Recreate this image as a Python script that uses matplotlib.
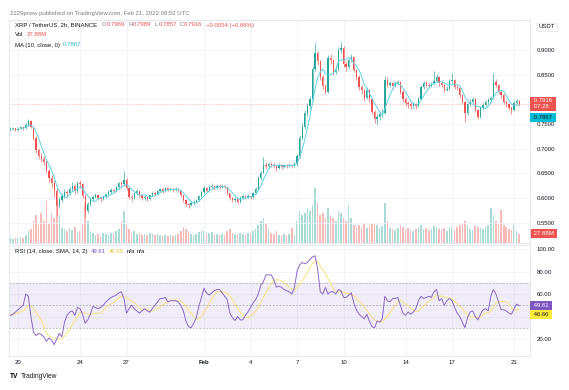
import numpy as np
import pandas as pd
import matplotlib
matplotlib.use("Agg")
import matplotlib.pyplot as plt
import matplotlib.dates as mdates
from matplotlib.transforms import blended_transform_factory

# 4h candles, XRP / TetherUS
first_open = 0.7385
closes = [
    0.740, 0.742, 0.739,
    0.741, 0.744, 0.743, 0.749, 0.757, 0.745,
    0.722, 0.697, 0.686, 0.680, 0.674, 0.655,
    0.640, 0.630, 0.615, 0.585, 0.596, 0.604,
    0.612, 0.610, 0.618, 0.625, 0.614, 0.630,
    0.628, 0.605, 0.575, 0.588, 0.598, 0.603,
    0.606, 0.601, 0.598, 0.603, 0.608, 0.612,
    0.617, 0.614, 0.622, 0.630, 0.628, 0.637,
    0.620, 0.602, 0.600, 0.610, 0.615, 0.606,
    0.600, 0.603, 0.598, 0.606, 0.611, 0.609,
    0.614, 0.618, 0.615, 0.620, 0.617, 0.619,
    0.617, 0.619, 0.616, 0.606, 0.596, 0.588,
    0.586, 0.590, 0.592, 0.596, 0.604, 0.612,
    0.620, 0.615, 0.622, 0.625, 0.621, 0.624,
    0.623, 0.625, 0.622, 0.610, 0.600, 0.597,
    0.598, 0.593, 0.601, 0.604, 0.602, 0.605,
    0.603, 0.610, 0.618, 0.640, 0.652, 0.668,
    0.665, 0.670, 0.668, 0.666, 0.662, 0.668,
    0.664, 0.667, 0.665, 0.668, 0.666, 0.670,
    0.685, 0.722, 0.745, 0.772, 0.786, 0.800,
    0.862, 0.893, 0.878, 0.845, 0.828, 0.815,
    0.884, 0.880, 0.855, 0.862, 0.900, 0.905,
    0.872, 0.866, 0.880, 0.886, 0.860, 0.846,
    0.825, 0.818, 0.802, 0.820, 0.800, 0.775,
    0.760, 0.764, 0.770, 0.772, 0.840, 0.830,
    0.833, 0.828, 0.834, 0.835, 0.815, 0.800,
    0.792, 0.790, 0.786, 0.790, 0.787, 0.800,
    0.826, 0.833, 0.830, 0.828, 0.832, 0.838,
    0.845, 0.833, 0.830, 0.820, 0.822, 0.838,
    0.840, 0.826, 0.824, 0.808, 0.795, 0.772,
    0.790, 0.795, 0.800, 0.778, 0.765, 0.782,
    0.788, 0.795, 0.798, 0.802, 0.836, 0.830,
    0.815, 0.808, 0.795, 0.790, 0.783, 0.778,
    0.793, 0.797, 0.7916,
]
highs = [
    0.744, 0.745, 0.743,
    0.744, 0.747, 0.746, 0.752, 0.760, 0.758,
    0.747, 0.725, 0.702, 0.692, 0.686, 0.678,
    0.660, 0.646, 0.636, 0.620, 0.602, 0.610,
    0.618, 0.616, 0.622, 0.632, 0.628, 0.635,
    0.636, 0.630, 0.608, 0.592, 0.602, 0.607,
    0.610, 0.608, 0.604, 0.606, 0.611, 0.616,
    0.620, 0.619, 0.625, 0.633, 0.634, 0.655,
    0.640, 0.622, 0.606, 0.613, 0.618, 0.617,
    0.609, 0.607, 0.605, 0.609, 0.614, 0.614,
    0.617, 0.621, 0.620, 0.623, 0.622, 0.622,
    0.621, 0.622, 0.621, 0.617, 0.607, 0.598,
    0.591, 0.594, 0.596, 0.599, 0.607, 0.615,
    0.625, 0.622, 0.626, 0.630, 0.627, 0.628,
    0.628, 0.629, 0.627, 0.623, 0.611, 0.602,
    0.602, 0.600, 0.604, 0.608, 0.606, 0.608,
    0.607, 0.613, 0.622, 0.644, 0.656, 0.683,
    0.674, 0.673, 0.673, 0.671, 0.668, 0.671,
    0.670, 0.670, 0.669, 0.671, 0.670, 0.674,
    0.690, 0.728, 0.752, 0.778, 0.792, 0.806,
    0.868, 0.914, 0.898, 0.880, 0.850, 0.832,
    0.890, 0.892, 0.882, 0.870, 0.906, 0.916,
    0.908, 0.878, 0.884, 0.892, 0.888, 0.862,
    0.850, 0.830, 0.822, 0.826, 0.822, 0.803,
    0.778, 0.770, 0.776, 0.780, 0.848, 0.845,
    0.838, 0.836, 0.838, 0.840, 0.838, 0.818,
    0.804, 0.797, 0.794, 0.795, 0.793, 0.804,
    0.830, 0.838, 0.837, 0.834, 0.836, 0.858,
    0.852, 0.848, 0.837, 0.832, 0.828, 0.842,
    0.853, 0.842, 0.830, 0.826, 0.810, 0.797,
    0.793, 0.800, 0.805, 0.802, 0.780, 0.786,
    0.792, 0.799, 0.802, 0.806, 0.853, 0.842,
    0.832, 0.818, 0.810, 0.799, 0.793, 0.786,
    0.797, 0.801, 0.7989,
]
lows = [
    0.737, 0.738, 0.736,
    0.737, 0.740, 0.739, 0.741, 0.747, 0.742,
    0.718, 0.692, 0.680, 0.673, 0.668, 0.650,
    0.632, 0.622, 0.602, 0.566, 0.580, 0.592,
    0.600, 0.604, 0.606, 0.612, 0.608, 0.610,
    0.620, 0.600, 0.562, 0.570, 0.585, 0.594,
    0.600, 0.596, 0.593, 0.596, 0.601, 0.605,
    0.609, 0.610, 0.612, 0.619, 0.623, 0.625,
    0.616, 0.598, 0.595, 0.598, 0.607, 0.602,
    0.596, 0.597, 0.594, 0.597, 0.604, 0.605,
    0.606, 0.612, 0.611, 0.613, 0.614, 0.614,
    0.613, 0.614, 0.612, 0.603, 0.592, 0.584,
    0.581, 0.584, 0.587, 0.590, 0.594, 0.602,
    0.610, 0.612, 0.613, 0.619, 0.617, 0.619,
    0.619, 0.620, 0.618, 0.606, 0.596, 0.592,
    0.593, 0.589, 0.591, 0.598, 0.598, 0.600,
    0.599, 0.601, 0.608, 0.616, 0.636, 0.650,
    0.660, 0.662, 0.664, 0.661, 0.655, 0.660,
    0.660, 0.662, 0.661, 0.663, 0.662, 0.664,
    0.666, 0.682, 0.718, 0.740, 0.766, 0.780,
    0.796, 0.858, 0.870, 0.840, 0.822, 0.810,
    0.812, 0.872, 0.850, 0.852, 0.858, 0.893,
    0.866, 0.858, 0.862, 0.876, 0.855, 0.840,
    0.818, 0.810, 0.796, 0.800, 0.795, 0.770,
    0.752, 0.748, 0.758, 0.764, 0.770, 0.825,
    0.826, 0.822, 0.825, 0.829, 0.810, 0.795,
    0.786, 0.783, 0.780, 0.782, 0.781, 0.785,
    0.798, 0.822, 0.825, 0.823, 0.825, 0.830,
    0.836, 0.828, 0.825, 0.815, 0.816, 0.820,
    0.834, 0.822, 0.818, 0.802, 0.790, 0.754,
    0.768, 0.786, 0.792, 0.775, 0.760, 0.762,
    0.778, 0.785, 0.790, 0.794, 0.800, 0.826,
    0.811, 0.802, 0.791, 0.785, 0.778, 0.770,
    0.776, 0.790, 0.7857,
]
volumes = [  # millions
    15, 12, 15,
    15, 18, 15, 24, 36, 42,
    69, 84, 54, 90, 66, 126,
    60, 90, 75, 129, 84, 45,
    42, 36, 45, 39, 48, 33,
    36, 54, 120, 66, 36, 30,
    24, 27, 21, 30, 27, 24,
    30, 27, 36, 42, 66, 96,
    54, 42, 30, 36, 27, 30,
    24, 27, 24, 30, 27, 24,
    27, 24, 21, 24, 21, 24,
    21, 24, 27, 36, 48, 42,
    36, 27, 24, 27, 33, 36,
    36, 27, 30, 33, 24, 27,
    24, 27, 24, 36, 42, 30,
    27, 24, 30, 27, 24, 30,
    27, 36, 42, 54, 66, 75,
    60, 42, 30, 27, 36, 24,
    24, 27, 21, 27, 45, 24,
    66, 96, 84, 90, 105, 96,
    114, 165, 120, 84, 90, 75,
    105, 84, 75, 66, 96, 90,
    75, 66, 114, 75, 54, 48,
    54, 48, 60, 45, 51, 57,
    60, 54, 45, 51, 120, 66,
    45, 42, 39, 45, 54, 48,
    42, 45, 39, 36, 42, 48,
    54, 42, 45, 39, 42, 51,
    48, 42, 39, 45, 36, 48,
    45, 39, 48, 54, 60, 66,
    54, 42, 39, 51, 48, 45,
    42, 48, 54, 105, 84, 66,
    60, 99, 54, 48, 42, 39,
    54, 36, 27.88,
]
rsi = [
    41, 42, 44,
    46, 48, 50, 60, 58, 40,
    26, 23, 25, 24, 22, 18,
    21, 19, 15, 20, 25, 22,
    35, 41, 44, 45, 41, 48,
    47, 42, 34, 37, 42, 49,
    48, 47, 48, 50, 53, 55,
    57, 58, 59, 61, 62, 56,
    43, 47, 50, 47, 45, 43,
    45, 47, 45, 44, 47, 50,
    53, 56, 56, 57, 53, 54,
    54, 54, 53, 50, 45, 36,
    31, 30, 34, 39, 49, 57,
    65, 61, 59, 61, 63, 64,
    64, 61, 58, 55, 43, 39,
    36.5, 40, 37, 37, 41, 44,
    48, 52, 55, 60, 68, 71,
    77, 77, 77, 73, 66, 67,
    66, 64, 63, 62, 60, 66,
    80, 86, 88, 87, 88, 91,
    93, 94, 82, 62, 60, 66,
    60, 62, 62, 60, 64, 63,
    57, 57, 59, 61, 52, 46,
    42, 40, 38, 42, 36, 31,
    30, 36, 35, 38, 58, 54,
    53, 56, 56, 57, 50, 43,
    41, 44, 42, 44, 47, 54,
    58, 56, 57, 58, 57, 62,
    64, 54, 56, 50, 54, 56,
    54, 48, 43, 40, 35, 30,
    39, 44, 45, 40, 37, 42,
    46, 47, 45, 58, 64, 60,
    53, 46, 46, 45, 43, 42,
    47, 51, 49.61,
]
tick_dates = ["2022-01-20", "2022-01-24", "2022-01-27", "2022-02-01", "2022-02-04",
              "2022-02-07", "2022-02-10", "2022-02-14", "2022-02-17", "2022-02-21"]
tick_labels = ["20", "24", "27", "Feb", "4", "7", "10", "14", "17", "21"]
price_ticks = [0.55, 0.60, 0.65, 0.70, 0.75, 0.80, 0.85, 0.90]
rsi_ticks = [20, 40, 60, 80, 100]

TEAL = "#26a69a"
RED = "#ef5350"
DARK = "#131722"
GRAY = "#787b86"
GRID = "#f0f3fa"
BORDER = "#e0e3eb"
PURPLE = "#7e57c2"
YELLOW = "#f6e27a"
CYAN = "#00bcd4"

plt.rcParams["font.family"] = ["Liberation Sans", "DejaVu Sans"]
FS = 4.3

W_PX, H_PX = 569, 390
fig = plt.figure(figsize=(W_PX / 100, H_PX / 100), dpi=100)
fig.patch.set_facecolor("white")

left = 9 / W_PX
width = (530 - 9) / W_PX
ax = fig.add_axes([left, 1 - 243 / H_PX, width, 223 / H_PX])
ax_r = fig.add_axes([left, 1 - 356 / H_PX, width, 111 / H_PX], sharex=ax)

times = pd.date_range("2022-01-19 12:00", periods=len(closes), freq="4h")
x = mdates.date2num(times)
c = np.array(closes)
o = np.array([first_open] + closes[:-1])
h = np.maximum(np.array(highs), np.maximum(o, c))
l = np.minimum(np.array(lows), np.minimum(o, c))
up = c >= o
cols = np.where(up, TEAL, RED)
step = 1 / 6

# volume behind candles
vax = ax.twinx()
vcols = np.where(up, "#26a69a66", "#ef535066")
vax.bar(x, volumes, width=step * 0.62, color=vcols, linewidth=0)
vax.set_ylim(0, 223 * 3)
vax.set_yticks([])
for s in vax.spines.values():
    s.set_visible(False)
ax.set_zorder(vax.get_zorder() + 1)
ax.patch.set_visible(False)

ax.vlines(x, l, h, colors=cols, linewidth=0.45)
ax.bar(x, np.maximum(np.abs(c - o), 0.0008), bottom=np.minimum(o, c),
       width=step * 0.5, color=cols, linewidth=0)
ma = pd.Series(c).rolling(5).mean()
ax.plot(x, ma, color="#5fd3e6", linewidth=0.7)
ax.axhline(closes[-1], color=RED, linewidth=0.5, linestyle=(0, (1, 1.5)), alpha=0.6)

x0 = mdates.date2num(pd.Timestamp("2022-01-20"))
ax.set_xlim(x0 - 0.58, x0 + 33.03)
ax.set_ylim(0.5093, 0.9607)

tx = mdates.date2num(pd.to_datetime(tick_dates))
for a in (ax, ax_r):
    a.set_xticks(tx)
    a.grid(True, color=GRID, linewidth=0.6)
    a.set_axisbelow(True)
    a.yaxis.tick_right()
    a.tick_params(length=0, labelsize=FS, labelcolor=DARK, pad=5)
    for s in a.spines.values():
        s.set_color(BORDER)
        s.set_linewidth(0.6)
ax.tick_params(axis="x", labelbottom=False)
ax.set_yticks(price_ticks)
ax.set_yticklabels([f"{v:.4f}" for v in price_ticks])

ax_r.set_xticklabels(tick_labels)
ax_r.tick_params(axis="x", pad=3)
for lab in ax_r.get_xticklabels():
    if lab.get_text() == "Feb":
        lab.set_fontweight("bold")

# RSI pane
ax_r.set_ylim(4.9, 103.6)
ax_r.set_yticks(rsi_ticks)
ax_r.set_yticklabels([f"{v:.2f}" for v in rsi_ticks])
ax_r.axhspan(30, 70, color=PURPLE, alpha=0.1, linewidth=0)
for lvl in (70, 50, 30):
    ax_r.axhline(lvl, color=GRAY, alpha=0.6, linewidth=0.6, linestyle=(0, (2, 2)))
rsi_ma = pd.Series(rsi).rolling(7, min_periods=1).mean()
ax_r.plot(x, rsi_ma, color=YELLOW, linewidth=0.7)
ax_r.plot(x, rsi, color=PURPLE, linewidth=0.7, alpha=0.9)

# right-scale labels
tr = blended_transform_factory(ax.transAxes, ax.transData)
box = dict(boxstyle="square,pad=0.3", linewidth=0)
ax.text(1.004, closes[-1], " 0.7916 \n 07:28 ", transform=tr, fontsize=FS, color="white",
        va="center", ha="left", linespacing=1.1, bbox=dict(box, facecolor=RED),
        clip_on=False, zorder=10)
ax.annotate(" 0.7867 ", xy=(1.004, ma.iloc[-1]), xycoords=tr, xytext=(0, -9),
            textcoords="offset points", fontsize=FS, color=DARK, va="center", ha="left",
            bbox=dict(box, facecolor=CYAN), annotation_clip=False, zorder=10)
ax.text(1.016, 0.969, "USDT", transform=ax.transAxes, fontsize=FS, color=DARK,
        va="center", ha="left",
        bbox=dict(boxstyle="square,pad=0.3", facecolor="white", edgecolor=BORDER, linewidth=0.5))
vtr = blended_transform_factory(vax.transAxes, vax.transData)
vax.text(1.004, volumes[-1], " 27.88M ", transform=vtr, fontsize=FS, color="white",
         va="center", ha="left", bbox=dict(box, facecolor=RED), clip_on=False)
rtr = blended_transform_factory(ax_r.transAxes, ax_r.transData)
ax_r.text(1.004, rsi[-1], " 49.61 ", transform=rtr, fontsize=FS, color="white",
          va="center", ha="left", bbox=dict(box, facecolor=PURPLE), clip_on=False, zorder=10)
ax_r.annotate(" 46.66 ", xy=(1.004, 46.66), xycoords=rtr, xytext=(0, -4),
              textcoords="offset points", fontsize=FS, color=DARK, va="center", ha="left",
              bbox=dict(box, facecolor="#ffeb3b"), annotation_clip=False, zorder=10)

# legends, drawn piece by piece: (text, colour, weight, gap after in px)
renderer = fig.canvas.get_renderer()


def put_line(x_px, y_px, parts, size=FS):
    xf = x_px / W_PX
    for s, col, wt, gap in parts:
        t = fig.text(xf, 1 - y_px / H_PX, s, color=col, fontsize=size,
                     fontweight=wt, va="center", ha="left")
        xf += (t.get_window_extent(renderer).width + gap) / fig.bbox.width


n = "normal"
put_line(10, 14, [("2229prww published on TradingView.com, Feb 21, 2022 09:52 UTC", GRAY, n, 0)])
put_line(15, 25, [("XRP / TetherUS, 2h, BINANCE", DARK, n, 5),
                  ("O", GRAY, n, 0.3), ("0.7969", RED, n, 3),
                  ("H", GRAY, n, 0.3), ("0.7989", RED, n, 3),
                  ("L", GRAY, n, 0.3), ("0.7857", RED, n, 3),
                  ("C", GRAY, n, 0.3), ("0.7916", RED, n, 3),
                  ("\u22120.0054 (\u22120.68%)", RED, n, 0)])
put_line(15, 35, [("Vol", DARK, n, 3), ("27.88M", RED, n, 0)])
put_line(15, 45, [("MA (10, close, 0)", DARK, n, 3), ("0.7867", "#22b8d0", n, 0)])
put_line(15, 251, [("RSI (14, close, SMA, 14, 2)", DARK, n, 3), ("49.61", PURPLE, n, 3),
                   ("46.66", "#e6cf3a", n, 3), ("n/a", DARK, n, 2), ("n/a", DARK, n, 0)])
put_line(10, 377, [("TV", "black", "bold", 2), ("TradingView", DARK, n, 0)], size=4.8)

fig.savefig("out.png", dpi=100, facecolor="white")
